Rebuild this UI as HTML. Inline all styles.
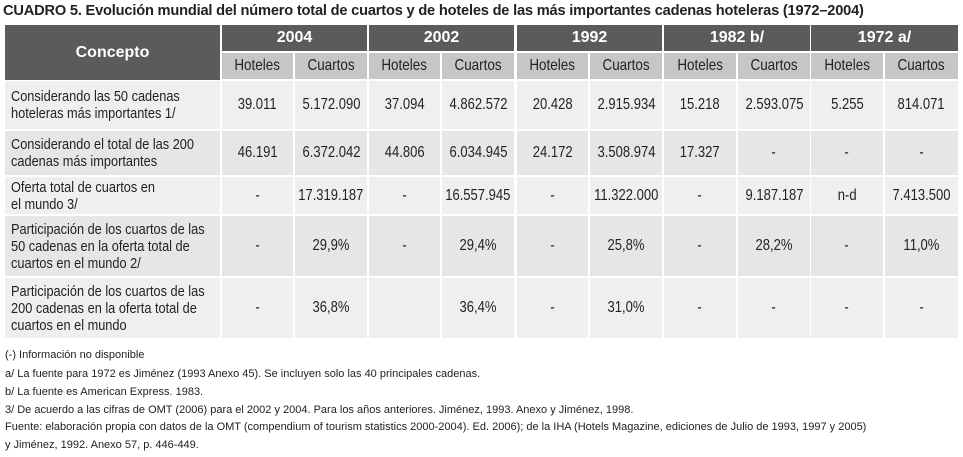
<!DOCTYPE html>
<html><head><meta charset="utf-8"><style>
body{margin:0;width:963px;height:457px;background:#fff;overflow:hidden;font-family:"Liberation Sans",sans-serif;color:#222}
#title{position:absolute;left:3px;top:2px;font-size:15px;font-weight:bold;white-space:nowrap;letter-spacing:-0.2px;transform:scaleX(0.975);transform-origin:left top}
.c{position:absolute;box-sizing:border-box;display:flex;align-items:center;justify-content:center;text-align:center;font-size:15.5px}
.c span{display:inline-block;white-space:nowrap;transform:scaleX(0.84)}
.h1{background:#5b5b5b;color:#fff;font-weight:bold;font-size:16px}
.h1 span{transform:none}
.h2{background:#c6c6c6;color:#222;font-size:16px}
.l{justify-content:flex-start;text-align:left;padding-left:6px;line-height:17px;font-size:15.2px}
.l span{transform-origin:left center}
.fn{position:absolute;left:5px;font-size:11px;white-space:nowrap}
</style></head><body>
<div id="title">CUADRO 5. Evolución mundial del número total de cuartos y de hoteles de las más importantes cadenas hoteleras (1972–2004)</div>
<div id="tbl"></div>
<div class="fn" style="top:349px">(-) Información no disponible</div>
<div class="fn" style="top:368px">a/ La fuente para 1972 es Jiménez (1993 Anexo 45). Se incluyen solo las 40 principales cadenas.</div>
<div class="fn" style="top:386px">b/ La fuente es American Express. 1983.</div>
<div class="fn" style="top:404px">3/ De acuerdo a las cifras de OMT (2006) para el 2002 y 2004. Para los años anteriores. Jiménez, 1993. Anexo y Jiménez, 1998.</div>
<div class="fn" style="top:421px">Fuente: elaboración propia con datos de la OMT (compendium of tourism statistics 2000-2004). Ed. 2006); de la IHA (Hotels Magazine, ediciones de Julio de 1993, 1997 y 2005)</div>
<div class="fn" style="top:439px">y Jiménez, 1992. Anexo 57, p. 446-449.</div>
<script>
const years=["2004","2002","1992","1982 b/","1972 a/"];
const concepts=["Considerando las 50 cadenas<br>hoteleras más importantes 1/","Considerando el total de las 200<br>cadenas más importantes","Oferta total de cuartos en<br>el mundo 3/","Participación de los cuartos de las<br>50 cadenas en la oferta total de<br>cuartos en el mundo 2/","Participación de los cuartos de las<br>200 cadenas en la oferta total de<br>cuartos en el mundo"];
const values=[
["39.011","5.172.090","37.094","4.862.572","20.428","2.915.934","15.218","2.593.075","5.255","814.071"],
["46.191","6.372.042","44.806","6.034.945","24.172","3.508.974","17.327","-","-","-"],
["-","17.319.187","-","16.557.945","-","11.322.000","-","9.187.187","n-d","7.413.500"],
["-","29,9%","-","29,4%","-","25,8%","-","28,2%","-","11,0%"],
["-","36,8%","","36,4%","-","31,0%","-","-","-","-"]];
const tbl=document.getElementById('tbl');
function cell(x,y,w,h,cls,html,bg){const d=document.createElement('div');d.className='c '+cls;d.style.cssText=`left:${x}px;top:${y}px;width:${w}px;height:${h}px;`+(bg?`background:${bg};`:'');d.innerHTML='<span>'+html+'</span>';tbl.appendChild(d);return d;}
const yx=[222,369,517,664,811],yw=[145,145,145,146,147];
let d=cell(5,25,215,55,'h1','Concepto');


years.forEach((y,i)=>{
 let e=cell(yx[i],25,yw[i],26,'h1',y);
 
 
 const hw=Math.floor((yw[i]-2)/2);
 let a=cell(yx[i],53,hw,26,'h2','Hoteles');
 
 
 let b=cell(yx[i]+hw+2,53,yw[i]-hw-2,26,'h2','Cuartos');
 
 
});
const rowY=[81,131,177,216,278],rowH=[48,44,37,60,60],bgs=['#efefef','#e6e6e6','#efefef','#e6e6e6','#efefef'];
concepts.forEach((c,r)=>{
 let e=cell(5,rowY[r],215,rowH[r],'l',c,bgs[r]);
 
 
 years.forEach((y,i)=>{
  const hw=Math.floor((yw[i]-2)/2);
  let a=cell(yx[i],rowY[r],hw,rowH[r],'',values[r][2*i],bgs[r]);
  
  
  let b=cell(yx[i]+hw+2,rowY[r],yw[i]-hw-2,rowH[r],'',values[r][2*i+1],bgs[r]);
  
  
 });
});
</script>
</body></html>
